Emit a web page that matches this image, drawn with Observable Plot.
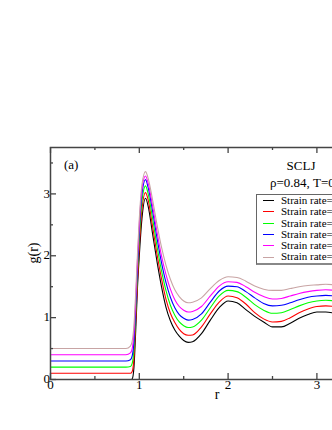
<!DOCTYPE html>
<html>
<head>
<meta charset="utf-8">
<script src="https://cdn.jsdelivr.net/npm/d3@7"></script>
<script src="https://cdn.jsdelivr.net/npm/@observablehq/plot@0.6"></script>
<style>
  html, body { margin: 0; padding: 0; overflow: hidden; background: #fff; }
  #wrap { position: relative; width: 332px; height: 430px; overflow: hidden; font-family: "Liberation Serif", "DejaVu Serif", serif; }
  #wrap > svg { position: absolute; left: 0; top: 0; max-width: none !important; width: 393px; height: 430px; }
  .ann { position: absolute; white-space: nowrap; color: #000; line-height: 1; }
  #legend { position: absolute; left: 256px; top: 194px; width: 140px; background: #fff;
            border: 1px solid #666; border-bottom: 2px solid #888; font-size: 11px; }
  #legend .row { height: 11.3px; line-height: 11.3px; white-space: nowrap; display: flex; align-items: center; }
  #legend .sw { display: block; flex: none; width: 11px; height: 3px; margin-left: 6px; margin-right: 7px; }
</style>
</head>
<body>
<div id="wrap"></div>
<script>
// r grid
const r = [0, 0.5, 0.85, 0.9, 0.92, 0.94, 0.96, 0.98, 1.0, 1.03, 1.07, 1.1, 1.15, 1.2, 1.25, 1.3, 1.35, 1.4, 1.45, 1.5,
           1.55, 1.6, 1.7, 1.8, 1.9, 2.0, 2.1, 2.2, 2.3, 2.4, 2.5, 2.6, 2.7, 2.8, 2.9, 3.0, 3.1, 3.2];

// g(r) for each strain rate (curves shifted for clarity, as plotted)
const g1 = [0, 0, 0, 0, 0.01, 0.2, 0.8, 1.5, 2.0, 2.6, 2.93, 2.8, 2.35, 1.9, 1.5, 1.17, 0.95, 0.8, 0.7, 0.63,
            0.6, 0.61, 0.74, 0.96, 1.16, 1.27, 1.24, 1.13, 1.02, 0.93, 0.85, 0.85, 0.91, 0.99, 1.05, 1.09, 1.09, 1.07];
const g2 = [0.1, 0.1, 0.1, 0.1, 0.13, 0.35, 0.95, 1.6, 2.15, 2.75, 3.02, 2.9, 2.47, 2.02, 1.63, 1.3, 1.07, 0.92, 0.81, 0.74,
            0.715, 0.72, 0.85, 1.06, 1.25, 1.35, 1.32, 1.22, 1.08, 0.98, 0.93, 0.94, 1.0, 1.08, 1.14, 1.18, 1.19, 1.18];
const g3 = [0.2, 0.2, 0.2, 0.21, 0.26, 0.5, 1.1, 1.75, 2.3, 2.88, 3.13, 3.0, 2.6, 2.15, 1.76, 1.44, 1.2, 1.04, 0.93, 0.87,
            0.84, 0.85, 0.96, 1.16, 1.35, 1.44, 1.42, 1.33, 1.21, 1.12, 1.07, 1.08, 1.13, 1.19, 1.24, 1.27, 1.28, 1.27];
const g4 = [0.3, 0.3, 0.3, 0.32, 0.38, 0.62, 1.2, 1.85, 2.42, 3.0, 3.23, 3.1, 2.72, 2.28, 1.89, 1.57, 1.33, 1.16, 1.05, 0.99,
            0.96, 0.97, 1.06, 1.25, 1.43, 1.51, 1.5, 1.42, 1.32, 1.23, 1.19, 1.2, 1.24, 1.29, 1.33, 1.35, 1.36, 1.35];
const g5 = [0.4, 0.4, 0.4, 0.43, 0.5, 0.75, 1.3, 1.95, 2.52, 3.08, 3.29, 3.17, 2.8, 2.38, 2.0, 1.7, 1.46, 1.29, 1.18, 1.12,
            1.09, 1.1, 1.18, 1.35, 1.51, 1.58, 1.57, 1.5, 1.41, 1.34, 1.3, 1.31, 1.35, 1.39, 1.42, 1.44, 1.45, 1.44];
const g6 = [0.5, 0.5, 0.5, 0.54, 0.62, 0.88, 1.42, 2.05, 2.6, 3.15, 3.36, 3.25, 2.9, 2.5, 2.14, 1.85, 1.62, 1.45, 1.34, 1.27,
            1.24, 1.25, 1.32, 1.47, 1.6, 1.66, 1.65, 1.59, 1.51, 1.46, 1.44, 1.44, 1.47, 1.5, 1.52, 1.53, 1.54, 1.53];

const seriesValues = [g1, g2, g3, g4, g5, g6];
const seriesColors = ["#000000", "#ff0000", "#00ff00", "#0000ff", "#ff00ff", "#c8a4a4"];
const legendLabels = ["Strain rate=", "Strain rate=", "Strain rate=", "Strain rate=", "Strain rate=", "Strain rate="];

const xMajor = [0, 1, 2, 3];
const xMinor = [0.5, 1.5, 2.5, 3.5];
const yMajor = [0, 1, 2, 3];
const yMinor = [0.5, 1.5, 2.5, 3.5];

const W = 393, H = 430, mL = 50, mR = 10, mT = 147, mB = 51;
const innerW = W - mL - mR, innerH = H - mT - mB;
const axisColor = "#444";

const lines = seriesValues.map((vals, i) =>
  Plot.line(r.map((x, j) => ({r: x, g: vals[j]})), {x: "r", y: "g", stroke: seriesColors[i], strokeWidth: 1.1, curve: "monotone-x"})
);

const chart = Plot.plot({
  width: W, height: H,
  marginLeft: mL, marginRight: mR, marginTop: mT, marginBottom: mB,
  style: {fontFamily: "'Liberation Serif', serif", fontSize: "12px", color: "#000", background: "#fff", maxWidth: "none"},
  x: {domain: [0, 3.75], axis: null},
  y: {domain: [0, 3.75], axis: null},
  marks: [
    ...lines,
    // inward ticks, bottom & top
    Plot.tickX(xMajor, {x: d => d, insetTop: innerH - 6, stroke: axisColor, strokeWidth: 1.3}),
    Plot.tickX(xMinor, {x: d => d, insetTop: innerH - 3, stroke: axisColor, strokeWidth: 1.3}),
    Plot.tickX(xMajor, {x: d => d, insetBottom: innerH - 6, stroke: axisColor, strokeWidth: 1.3}),
    Plot.tickX(xMinor, {x: d => d, insetBottom: innerH - 3, stroke: axisColor, strokeWidth: 1.3}),
    // inward ticks, left & right
    Plot.tickY(yMajor, {y: d => d, insetRight: innerW - 6, stroke: axisColor, strokeWidth: 1.3}),
    Plot.tickY(yMinor, {y: d => d, insetRight: innerW - 3, stroke: axisColor, strokeWidth: 1.3}),
    Plot.tickY(yMajor, {y: d => d, insetLeft: innerW - 6, stroke: axisColor, strokeWidth: 1.3}),
    Plot.tickY(yMinor, {y: d => d, insetLeft: innerW - 3, stroke: axisColor, strokeWidth: 1.3}),
    // tick labels
    Plot.text(xMajor, {x: d => d, frameAnchor: "bottom", dy: 9, text: d => String(d), fontSize: 13, fill: "#000"}),
    Plot.text(yMajor, {y: d => d, frameAnchor: "left", dx: d => d === 0 ? -7 : -5, textAnchor: "end", dy: d => d === 0 ? -3 : 0, text: d => String(d), fontSize: 13, fill: "#000"}),
    // axis labels
    Plot.text(["r"], {frameAnchor: "bottom", dy: 19, text: d => d, fontSize: 14, fill: "#000"}),
    Plot.text(["g(r)"], {frameAnchor: "left", dx: -17, rotate: -90, text: d => d, fontSize: 14, fill: "#000"}),
    Plot.frame({stroke: axisColor, strokeWidth: 1.5})
  ]
});

const wrap = document.getElementById("wrap");
wrap.appendChild(chart);

function ann(text, left, top, size, anchor) {
  const d = document.createElement("div");
  d.className = "ann";
  d.textContent = text;
  d.style.fontSize = size + "px";
  d.style.top = top + "px";
  d.style.left = left + "px";
  if (anchor === "middle") d.style.transform = "translateX(-50%)";
  wrap.appendChild(d);
}
ann("(a)", 64, 158, 13);
ann("SCLJ", 301, 159, 13, "middle");
ann("\u03c1=0.84, T=0", 270, 176, 13);

const svgNS = "http://www.w3.org/2000/svg";
const legend = document.createElement("div");
legend.id = "legend";
legendLabels.forEach((lab, i) => {
  const row = document.createElement("div");
  row.className = "row";
  const sw = document.createElementNS(svgNS, "svg");
  sw.setAttribute("class", "sw");
  sw.setAttribute("width", "11");
  sw.setAttribute("height", "3");
  const ln = document.createElementNS(svgNS, "line");
  ln.setAttribute("x1", "0"); ln.setAttribute("x2", "11");
  ln.setAttribute("y1", "1.5"); ln.setAttribute("y2", "1.5");
  ln.setAttribute("stroke", seriesColors[i]);
  ln.setAttribute("stroke-width", "1");
  sw.appendChild(ln);
  row.appendChild(sw);
  const t = document.createElement("span");
  t.textContent = lab;
  row.appendChild(t);
  legend.appendChild(row);
});
wrap.appendChild(legend);
</script>
</body>
</html>
